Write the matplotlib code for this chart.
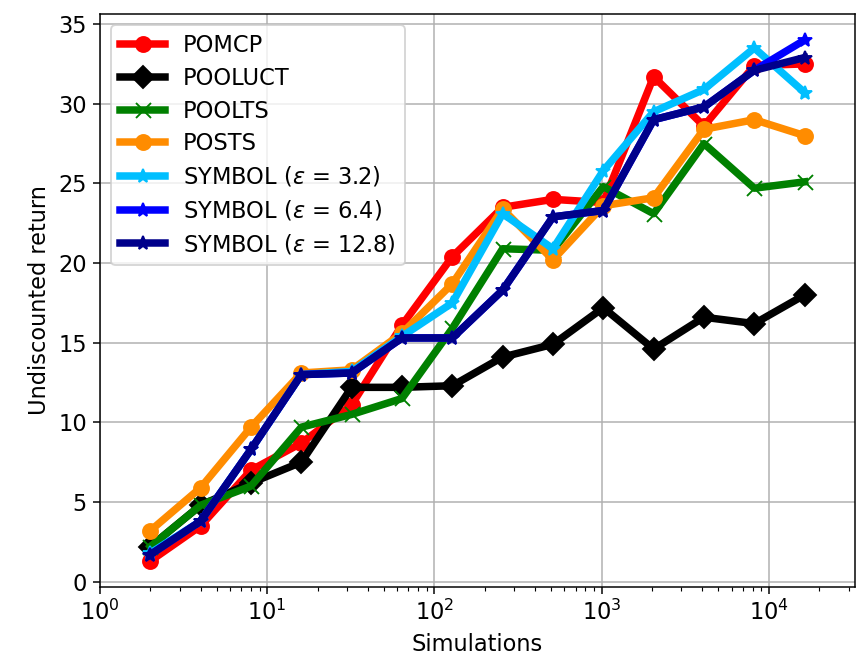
import matplotlib
matplotlib.use('Agg')
import matplotlib.pyplot as plt

# number of simulations (x axis)
sims = [2, 4, 8, 16, 32, 64, 128, 256, 512, 1024, 2048, 4096, 8192, 16384]

pomcp = [1.3, 3.5, 7.0, 8.7, 11.1, 16.1, 20.4, 23.5, 24.0, 23.8, 31.7, 28.6, 32.4, 32.5]
pooluct = [2.2, 4.8, 6.2, 7.5, 12.2, 12.2, 12.3, 14.1, 14.9, 17.2, 14.6, 16.6, 16.2, 18.0]
poolts = [2.2, 4.8, 6.0, 9.7, 10.5, 11.5, 15.9, 20.9, 20.8, 24.8, 23.1, 27.5, 24.7, 25.1]
posts = [3.2, 5.9, 9.7, 13.1, 13.3, 15.6, 18.7, 23.4, 20.2, 23.6, 24.1, 28.4, 29.0, 28.0]
symbol_32 = [1.8, 3.8, 8.3, 13.0, 13.2, 15.4, 17.5, 23.1, 20.9, 25.8, 29.5, 30.9, 33.5, 30.7]
symbol_64 = [1.7, 3.8, 8.3, 13.0, 13.1, 15.3, 15.3, 18.3, 22.9, 23.3, 29.0, 29.8, 32.1, 34.0]
symbol_128 = [1.7, 3.8, 8.3, 13.0, 13.1, 15.3, 15.3, 18.3, 22.9, 23.3, 29.0, 29.8, 32.1, 32.9]

plt.rcParams['font.size'] = 12

fig = plt.figure(figsize=(865 / 135, 657 / 135), dpi=135)
ax = fig.add_axes([0.1156, 0.1065, 0.8728, 0.8722])

ax.plot(sims, pomcp, 'o-', color='red', linewidth=4, markersize=8, label='POMCP')
ax.plot(sims, pooluct, 'D-', color='black', linewidth=4, markersize=8, label='POOLUCT')
ax.plot(sims, poolts, 'x-', color='green', linewidth=4, markersize=8, label='POOLTS')
ax.plot(sims, posts, 'o-', color='darkorange', linewidth=4, markersize=8, label='POSTS')
ax.plot(sims, symbol_32, '*-', color='deepskyblue', linewidth=4, markersize=8,
        label=r'SYMBOL ($\varepsilon$ = 3.2)')
ax.plot(sims, symbol_64, '*-', color='blue', linewidth=4, markersize=8,
        label=r'SYMBOL ($\varepsilon$ = 6.4)')
ax.plot(sims, symbol_128, '*-', color='darkblue', linewidth=4, markersize=8,
        label=r'SYMBOL ($\varepsilon$ = 12.8)')

ax.set_xscale('log')
ax.set_xlim(1, 32768)
ax.set_xlabel('Simulations')
ax.set_ylabel('Undiscounted return')
ax.grid(True)
ax.legend(loc='upper left', labelspacing=0.43)

plt.savefig('out.png', dpi=135)
